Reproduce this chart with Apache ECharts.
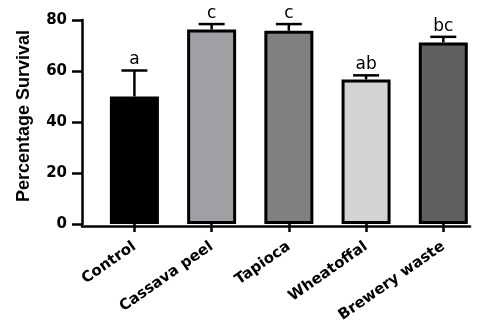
<!DOCTYPE html>
<html><head><meta charset="utf-8">
<script src="https://cdn.jsdelivr.net/npm/echarts@6/dist/echarts.min.js"></script>
<style>html,body{margin:0;padding:0;background:#fff}#c{width:492px;height:325px}</style>
</head><body><div id="c"></div>
<script>
const categories = ['Control', 'Cassava peel', 'Tapioca', 'Wheatoffal', 'Brewery waste'];
const means = [50, 76.3, 75.8, 56.7, 71.2];
const errors = [10.2, 2.1, 2.6, 1.6, 2.2];
const letters = ['a', 'c', 'c', 'ab', 'bc'];
const barColors = ['#000000', '#a19fa4', '#808080', '#d3d3d3', '#5f5f5f'];
const yTicks = [0, 20, 40, 60, 80];

const chart = echarts.init(document.getElementById('c'), null, {renderer: 'canvas'});
const errData = means.map((m, i) => [i, m, m + errors[i], letters[i]]);

chart.setOption({
  animation: false,
  grid: [
    {left: 95.8, right: 10.1, top: 20, bottom: 99, containLabel: false},
    {left: 82, right: 22, top: 20, bottom: 99, containLabel: false}
  ],
  xAxis: [
    {
      type: 'category', data: categories, gridIndex: 0,
      axisLine: {show: false},
      axisTick: {show: true, alignWithLabel: true, length: 8, lineStyle: {color: '#000', width: 2.5}},
      axisLabel: {rotate: 35, margin: 21, color: '#000', fontFamily: 'DejaVu Sans', fontWeight: 'bold', fontSize: 15, interval: 0}
    },
    {
      type: 'value', gridIndex: 1, min: 0, max: 1,
      axisLine: {show: true, lineStyle: {color: '#000', width: 2.5}},
      axisTick: {show: false}, axisLabel: {show: false}, splitLine: {show: false}
    }
  ],
  yAxis: [
    {
      type: 'value', gridIndex: 0, offset: 13.8,
      min: yTicks[0], max: yTicks[yTicks.length - 1], interval: 20,
      name: 'Percentage Survival', nameLocation: 'middle', nameGap: 49,
      nameTextStyle: {fontFamily: 'Liberation Sans', fontWeight: 'bold', fontSize: 18, color: '#000', padding: [0, 0, 0, 12]},
      axisLine: {show: true, lineStyle: {color: '#000', width: 2.5}},
      axisTick: {show: true, length: 10, lineStyle: {color: '#000', width: 2.5}},
      axisLabel: {margin: 15, color: '#000', fontFamily: 'DejaVu Sans', fontWeight: 'bold', fontSize: 15},
      splitLine: {show: false}
    },
    {
      type: 'value', gridIndex: 1, min: 0, max: 1, show: false
    }
  ],
  series: [
    {
      type: 'bar', barWidth: 49, xAxisIndex: 0, yAxisIndex: 0,
      data: means.map((v, i) => ({value: v, itemStyle: {color: barColors[i], borderColor: '#000', borderWidth: 3}}))
    },
    {
      type: 'custom', data: errData, z: 1, xAxisIndex: 0, yAxisIndex: 0,
      renderItem: function (params, api) {
        const x = api.value(0);
        const base = api.coord([x, api.value(1)]);
        const top = api.coord([x, api.value(2)]);
        const half = 13;
        return {
          type: 'group', children: [
            {type: 'line', shape: {x1: base[0], y1: base[1], x2: top[0], y2: top[1]}, style: {stroke: '#000', lineWidth: 2.5}},
            {type: 'line', shape: {x1: top[0] - half, y1: top[1], x2: top[0] + half, y2: top[1]}, style: {stroke: '#000', lineWidth: 2.5}},
            {type: 'text', x: top[0], y: top[1] - 2, style: {text: api.value(3), textAlign: 'center', textVerticalAlign: 'bottom', fontFamily: 'DejaVu Sans', fontSize: 17, fill: '#000'}}
          ]
        };
      }
    }
  ]
});
</script></body></html>
